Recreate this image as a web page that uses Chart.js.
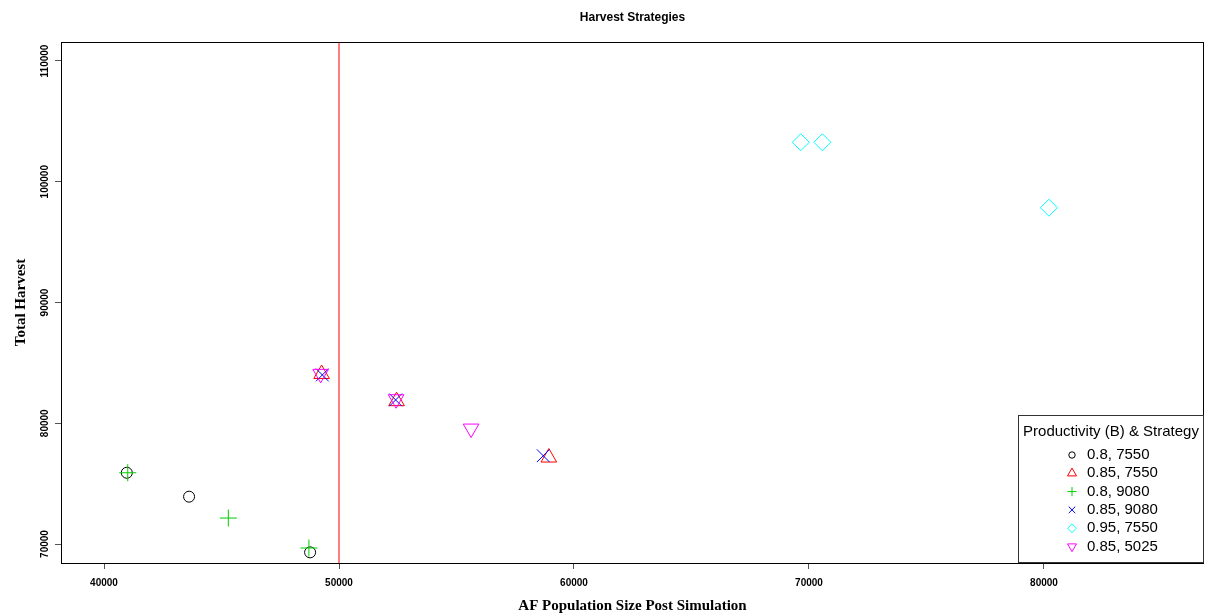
<!DOCTYPE html>
<html>
<head>
<meta charset="utf-8">
<title>Harvest Strategies</title>
<script src="https://cdn.jsdelivr.net/npm/chart.js@4.4.1/dist/chart.umd.min.js"></script>
<style>
  html, body { margin: 0; padding: 0; background: #fff; }
  #wrap { width: 1210px; height: 614px; }
</style>
</head>
<body>
<div id="wrap"><canvas id="harvestChart" width="1210" height="614"></canvas></div>
<script>
// legend labels: productivity (B), strategy
const seriesNames = ['0.8, 7550', '0.85, 7550', '0.8, 9080', '0.85, 9080', '0.95, 7550', '0.85, 5025'];

// population size after simulation / total harvest, one pair of arrays per run set
const pop_080_7550 = [40970, 43620, 48770];
const harv_080_7550 = [75900, 73920, 69310];
const pop_085_7550 = [49260, 52450, 58930];
const harv_085_7550 = [84080, 81830, 77160];
const pop_080_9080 = [41010, 45290, 48720];
const harv_080_9080 = [75900, 72150, 69670];
const pop_085_9080 = [49290, 52410, 58690];
const harv_085_9080 = [84000, 81930, 77310];
const pop_095_7550 = [69650, 70570, 80210];
const harv_095_7550 = [103270, 103270, 97850];
const pop_085_5025 = [49220, 52430, 55620];
const harv_085_5025 = [84090, 81990, 79560];

const xTicks = [40000, 50000, 60000, 70000, 80000];
const yTicks = [70000, 80000, 90000, 100000, 110000];
const popTarget = 50000;

const xRange = [38170, 86809];
const yRange = [68427, 111573];

const popSets = [pop_080_7550, pop_085_7550, pop_080_9080, pop_085_9080, pop_095_7550, pop_085_5025];
const harvSets = [harv_080_7550, harv_085_7550, harv_080_9080, harv_085_9080, harv_095_7550, harv_085_5025];

// R-style plotting symbols: pch 1..6
const markers = [
  { color: '#000000', style: 'circle',   radius: 5.5, legendRadius: 3.2, rotation: 0 },
  { color: '#FF0000', style: 'triangle', radius: 9,   legendRadius: 5.2, rotation: 0 },
  { color: '#00CD00', style: 'cross',    radius: 8.5, legendRadius: 4.6, rotation: 0 },
  { color: '#0000FF', style: 'crossRot', radius: 9,   legendRadius: 4.6, rotation: 0 },
  { color: '#00FFFF', style: 'rectRot',  radius: 8.5, legendRadius: 4.4, rotation: 0 },
  { color: '#FF00FF', style: 'triangle', radius: 9,   legendRadius: 5.2, rotation: 180 }
];

const SANS = '"Liberation Sans", Arial, Helvetica, sans-serif';
const SERIF = '"Liberation Serif", "Times New Roman", serif';

const datasets = seriesNames.map((name, i) => ({
  label: name,
  data: popSets[i].map((x, j) => ({ x: x, y: harvSets[i][j] })),
  pointStyle: markers[i].style,
  pointRadius: markers[i].radius,
  pointRotation: markers[i].rotation,
  pointBorderColor: markers[i].color,
  pointBackgroundColor: 'rgba(0,0,0,0)',
  pointBorderWidth: 1,
  order: seriesNames.length - i
}));

// reference population line
datasets.push({
  label: 'target',
  data: [{ x: popTarget, y: yRange[0] }, { x: popTarget, y: yRange[1] }],
  showLine: true,
  borderColor: 'rgba(255,0,0,0.5)',
  borderWidth: 2,
  pointRadius: 0,
  order: 20
});

const framePlugin = {
  id: 'frame',
  afterDatasetsDraw(chart) {
    const { ctx, chartArea: a } = chart;
    ctx.save();
    ctx.strokeStyle = '#000';
    ctx.lineWidth = 1;
    ctx.strokeRect(a.left + 0.5, a.top + 0.5, a.right - a.left - 1, a.bottom - a.top);
    ctx.restore();
  }
};

const titlePlugin = {
  id: 'plotTitle',
  afterDraw(chart) {
    const { ctx, chartArea: a } = chart;
    ctx.save();
    ctx.font = 'bold 12px ' + SANS;
    ctx.fillStyle = '#000';
    ctx.textAlign = 'center';
    ctx.textBaseline = 'middle';
    ctx.fillText('Harvest Strategies', (a.left + a.right) / 2, 18);
    ctx.restore();
  }
};

const legendPlugin = {
  id: 'boxLegend',
  afterDraw(chart) {
    const { ctx, chartArea: a } = chart;
    const w = 186, h = 147, rowH = 18.3;
    const right = a.right, bottom = a.bottom - 1;
    const left = right - w, top = bottom - h;
    ctx.save();
    ctx.fillStyle = '#fff';
    ctx.fillRect(left, top, w, h);
    ctx.strokeStyle = '#333';
    ctx.lineWidth = 1;
    ctx.strokeRect(left + 0.5, top + 0.5, w - 1, h);

    ctx.fillStyle = '#000';
    ctx.font = '15px ' + SANS;
    ctx.textBaseline = 'middle';
    ctx.textAlign = 'center';
    ctx.fillText('Productivity (B) & Strategy', left + w / 2, top + 17);

    ctx.textAlign = 'left';
    seriesNames.forEach((name, i) => {
      const y = top + 40 + i * rowH;
      const m = markers[i];
      ctx.save();
      ctx.strokeStyle = m.color;
      ctx.fillStyle = 'rgba(0,0,0,0)';
      ctx.lineWidth = 1;
      Chart.helpers.drawPoint(ctx, { pointStyle: m.style, radius: m.legendRadius, rotation: m.rotation, borderWidth: 1 }, left + 54, y);
      ctx.restore();
      ctx.fillStyle = '#000';
      ctx.fillText(name, left + 69, y);
    });
    ctx.restore();
  }
};

// keep tick labels from pushing the plot area inwards
const noEdgePadding = s => {
  s.paddingLeft = 0;
  s.paddingRight = 0;
  s.paddingTop = 0;
  s.paddingBottom = 0;
};

new Chart(document.getElementById('harvestChart'), {
  type: 'scatter',
  data: { datasets: datasets },
  plugins: [framePlugin, titlePlugin, legendPlugin],
  options: {
    responsive: false,
    animation: false,
    events: [],
    layout: { autoPadding: false, padding: { top: 42, right: 6, bottom: 0, left: 0 } },
    plugins: {
      legend: { display: false },
      tooltip: { enabled: false },
      title: { display: false }
    },
    scales: {
      x: {
        type: 'linear',
        min: xRange[0],
        max: xRange[1],
        bounds: 'data',
        afterBuildTicks: s => { s.ticks = xTicks.map(v => ({ value: v })); },
        afterFit: s => { s.height = 51; noEdgePadding(s); },
        grid: { drawOnChartArea: false, drawTicks: true, tickLength: 6, tickColor: '#555', lineWidth: 1 },
        border: { display: false },
        ticks: {
          callback: v => String(v),
          color: '#000',
          padding: 8,
          maxRotation: 0,
          font: { family: SANS, size: 10, weight: 'bold' }
        },
        title: {
          display: true,
          text: 'AF Population Size Post Simulation',
          color: '#000',
          padding: { top: 0, bottom: -1 },
          font: { family: SERIF, size: 15, weight: 'bold' }
        }
      },
      y: {
        type: 'linear',
        min: yRange[0],
        max: yRange[1],
        bounds: 'data',
        afterBuildTicks: s => { s.ticks = yTicks.map(v => ({ value: v })); },
        afterFit: s => { s.width = 61; noEdgePadding(s); },
        grid: { drawOnChartArea: false, drawTicks: true, tickLength: 6, tickColor: '#555', lineWidth: 1 },
        border: { display: false },
        ticks: {
          callback: v => String(v),
          color: '#000',
          minRotation: 90,
          maxRotation: 90,
          crossAlign: 'center',
          padding: -7,
          font: { family: SANS, size: 10, weight: 'bold' }
        },
        title: {
          display: true,
          text: 'Total Harvest',
          color: '#000',
          padding: { top: 12, bottom: 0 },
          font: { family: SERIF, size: 15, weight: 'bold' }
        }
      }
    }
  }
});
</script>
</body>
</html>
